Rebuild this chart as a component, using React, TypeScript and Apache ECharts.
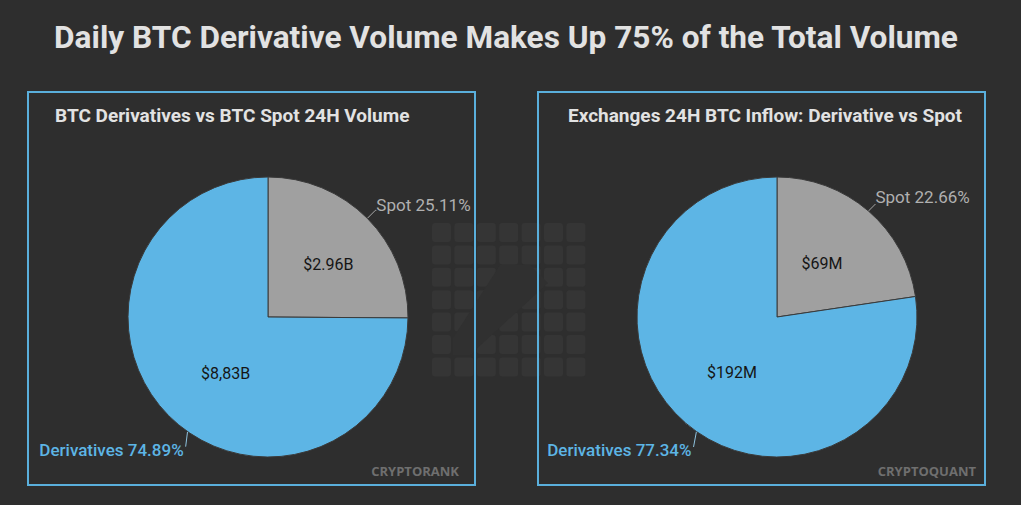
import React, { useEffect, useRef } from "react";
import * as echarts from "echarts";

const mainTitle = "Daily BTC Derivative Volume Makes Up 75% of the Total Volume";
const panelTitles = ["BTC Derivatives vs BTC Spot 24H Volume", "Exchanges 24H BTC Inflow: Derivative vs Spot"];
const sources = ["CRYPTORANK", "CRYPTOQUANT"];
const categories = ["Spot", "Derivatives"];
const leftShares = [25.11, 74.89];
const rightShares = [22.66, 77.34];
const leftValueLabels = ["$2.96B", "$8,83B"];
const rightValueLabels = ["$69M", "$192M"];

const BG = "#2e2e2e";
const BLUE = "#5db5e5";
const GRAY = "#a0a0a0";
const BORDER = "#5aafdc";

type LabelPlace = { lx: number; ly: number; align: string; pts: number[][] };
type Nudge = { dx: number; dy: number };

function pieSeries(
  center: [number, number],
  shares: number[],
  valueLabels: string[],
  places: LabelPlace[],
  nudges: Nudge[]
) {
  const data = categories.map((name, i) => ({
    name,
    value: shares[i],
    itemStyle: { color: i === 0 ? GRAY : BLUE },
    label: { color: i === 0 ? "#b0b0b0" : BLUE, fontWeight: i === 0 ? 400 : 500 },
    labelLine: { lineStyle: { color: i === 0 ? "#a8a8a8" : "#8fc3df" } },
  }));
  return [
    {
      type: "pie",
      center,
      radius: 140,
      startAngle: 90,
      clockwise: true,
      silent: true,
      itemStyle: { borderColor: "#3a3a3a", borderWidth: 1 },
      label: {
        show: true,
        position: "outside",
        formatter: "{b} {c}%",
        fontFamily: "Roboto",
        fontSize: 17,
        overflow: "none",
      },
      labelLine: { show: true, length: 12, length2: 3, lineStyle: { width: 1 } },
      labelLayout: (p: any) => {
        const a = p.labelLinePoints ? p.labelLinePoints[0] : [0, 0];
        const pl = places[p.dataIndex];
        return {
          x: a[0] + pl.lx,
          y: a[1] + pl.ly,
          align: pl.align,
          verticalAlign: "middle",
          labelLinePoints: [[a[0], a[1]], ...pl.pts.map((q) => [a[0] + q[0], a[1] + q[1]])],
        };
      },
      data,
    },
    {
      type: "pie",
      center,
      radius: 150,
      startAngle: 90,
      clockwise: true,
      silent: true,
      itemStyle: { color: "transparent", borderWidth: 0 },
      label: {
        show: true,
        position: "inside",
        formatter: (p: any) => valueLabels[p.dataIndex],
        color: "#151515",
        fontFamily: "Roboto",
        fontSize: 16,
      },
      labelLayout: (p: any) => nudges[p.dataIndex],
      labelLine: { show: false },
      data: categories.map((name, i) => ({ name, value: shares[i] })),
    },
  ];
}

function watermark() {
  const cells: any[] = [];
  const x0 = 432, y0 = 223, step = 22.4, size = 19;
  for (let r = 0; r < 7; r++) {
    for (let c = 0; c < 7; c++) {
      cells.push({
        type: "rect",
        shape: { x: x0 + c * step, y: y0 + r * step, width: size, height: size, r: 3 },
        style: { fill: "#353535" },
        silent: true,
        z: 0,
      });
    }
  }
  cells.push({
    type: "polygon",
    shape: { points: [[500, 265], [530, 265], [548, 283], [470, 355], [453, 355], [453, 338]] },
    style: { fill: "#303030" },
    silent: true,
    z: 0,
  });
  return cells;
}

export default function App() {
  const ref = useRef<HTMLDivElement>(null);
  useEffect(() => {
    const chart = echarts.init(ref.current!, null, { renderer: "svg" });
    chart.setOption({
      animation: false,
      backgroundColor: BG,
      graphic: [
        ...watermark(),
        {
          type: "text",
          x: 506,
          y: 37,
          style: {
            text: mainTitle,
            fill: "#e2e2e2",
            font: "bold 31.6px Roboto",
            align: "center",
            verticalAlign: "middle",
          },
          z: 10,
        },
        {
          type: "rect",
          shape: { x: 28, y: 92, width: 447, height: 393 },
          style: { fill: "none", stroke: BORDER, lineWidth: 2 },
          z: 5,
        },
        {
          type: "rect",
          shape: { x: 538, y: 92, width: 447, height: 393 },
          style: { fill: "none", stroke: BORDER, lineWidth: 2 },
          z: 5,
        },
        {
          type: "text",
          x: 55,
          y: 115,
          style: { text: panelTitles[0], fill: "#e2e2e2", font: "bold 19px Roboto", align: "left", verticalAlign: "middle" },
          z: 10,
        },
        {
          type: "text",
          x: 765,
          y: 115,
          style: { text: panelTitles[1], fill: "#e2e2e2", font: "bold 19px Roboto", align: "center", verticalAlign: "middle" },
          z: 10,
        },
        {
          type: "text",
          x: 459,
          y: 471,
          style: { text: sources[0], fill: "#6f6f6f", font: "bold 13px 'Open Sans'", align: "right", verticalAlign: "middle" },
          z: 10,
        },
        {
          type: "text",
          x: 976,
          y: 471,
          style: { text: sources[1], fill: "#6f6f6f", font: "bold 13px 'Open Sans'", align: "right", verticalAlign: "middle" },
          z: 10,
        },
      ],
      series: [
        ...pieSeries(
          [268, 317],
          leftShares,
          leftValueLabels,
          [
            { lx: 9, ly: -13, align: "left", pts: [[8, -8], [9, -8]] },
            { lx: 15, ly: 34, align: "right", pts: [[19, 15], [17, 31]] },
          ],
          [
            { dx: 5, dy: 2 },
            { dx: 13, dy: 2 },
          ]
        ),
        ...pieSeries(
          [777, 317],
          rightShares,
          rightValueLabels,
          [
            { lx: 7, ly: -14, align: "left", pts: [[6, -6], [7, -7]] },
            { lx: 6, ly: 27, align: "right", pts: [[11, 8], [8, 24]] },
          ],
          [
            { dx: -6, dy: 6 },
            { dx: 6, dy: -4 },
          ]
        ),
      ],
    });
    return () => chart.dispose();
  }, []);
  return <div ref={ref} style={{ position: "absolute", left: 0, top: 0, width: 1021, height: 505 }} />;
}
